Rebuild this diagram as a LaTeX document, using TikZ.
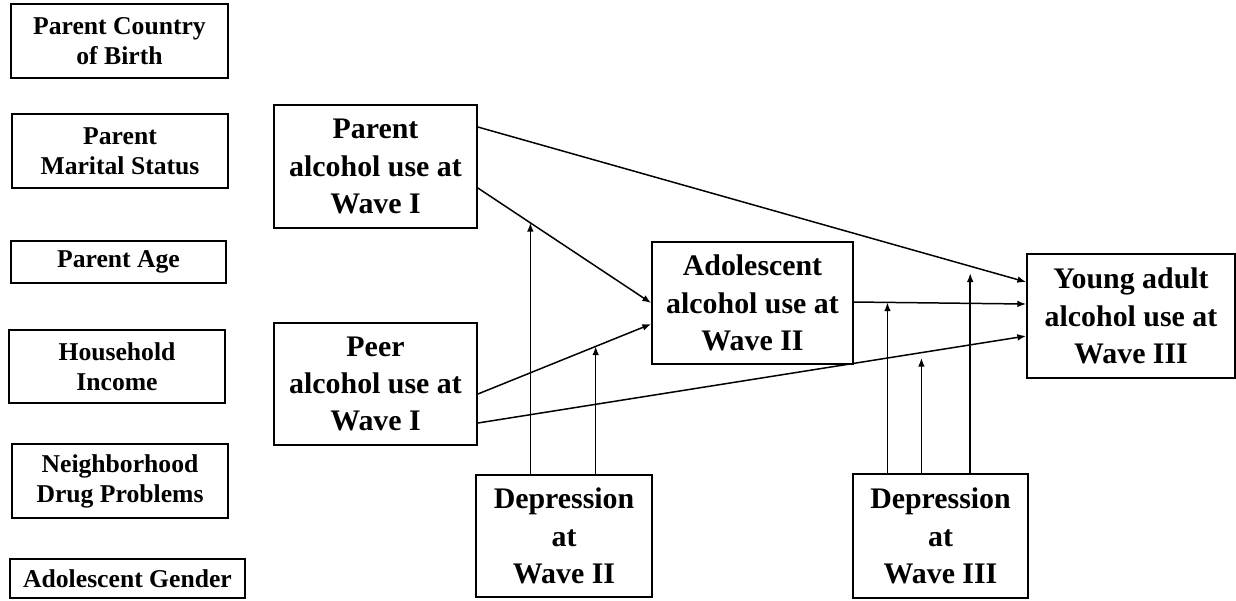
\documentclass[tikz,border=0pt]{standalone}
\usepackage{fontspec}
\setmainfont{Liberation Serif}
\usetikzlibrary{arrows.meta}

\tikzset{
  cov/.style={rectangle,draw,line width=1pt,align=center,inner sep=1pt,
    font=\fontsize{14.6}{17}\selectfont\bfseries},
  var/.style={rectangle,draw,line width=1pt,align=center,inner sep=1pt,
    font=\fontsize{17}{21.3}\selectfont\bfseries},
  conn/.style={line width=0.85pt,-{Latex[length=5pt,width=3.8pt]}}
}

\begin{document}
\begin{tikzpicture}[x=0.02cm,y=-0.02cm]
\useasboundingbox (0,0) rectangle (1236,600);
% covariates
\node[cov,minimum width=4.34cm,minimum height=1.48cm] (pcob) at (119.5,41) {Parent Country\\of Birth};
\node[cov,minimum width=4.32cm,minimum height=1.48cm] (pms) at (120,151) {Parent\\Marital Status};
\node[cov,minimum width=4.3cm,minimum height=0.84cm] (page) at (118.5,262) {Parent Age};
\node[cov,minimum width=4.32cm,minimum height=1.46cm] (hinc) at (117,366.5) {Household\\Income};
\node[cov,minimum width=4.32cm,minimum height=1.48cm] (ndp) at (120,481) {Neighborhood\\Drug Problems};
\node[cov,minimum width=4.7cm,minimum height=0.78cm] (agen) at (127.5,578.5) {Adolescent Gender};
% main variables
\node[var,minimum width=4.06cm,minimum height=2.46cm] (par) at (375.5,166.5) {Parent\\alcohol use at\\Wave I};
\node[var,minimum width=4.06cm,minimum height=2.44cm] (peer) at (375.5,384) {Peer\\alcohol use at\\Wave I};
\node[var,minimum width=4.02cm,minimum height=2.44cm] (ado) at (752.5,303) {Adolescent\\alcohol use at\\Wave II};
\node[var,minimum width=4.16cm,minimum height=2.48cm] (yad) at (1131,316) {Young adult\\alcohol use at\\Wave III};
\node[var,minimum width=3.52cm,minimum height=2.44cm] (dep2) at (564,536) {Depression\\at\\Wave II};
\node[var,minimum width=3.5cm,minimum height=2.48cm] (dep3) at (940.5,536) {Depression\\at\\Wave III};
% paths
\draw[conn] (par.east |- 0,127) -- coordinate[pos=0.898] (mE) (yad.west |- 0,282);
\draw[conn] (par.east |- 0,188) -- coordinate[pos=0.303] (mA) (ado.west |- 0,303);
\draw[conn] (peer.east |- 0,394) -- coordinate[pos=0.68] (mB) (ado.west |- 0,324);
\draw[conn] (peer.east |- 0,423) -- coordinate[pos=0.809] (mD) (yad.west |- 0,336);
\draw[conn] (ado.east |- 0,302) -- coordinate[pos=0.195] (mC) (yad.west |- 0,304);
% moderation
\draw[conn] (dep2.north -| mA) -- (mA);
\draw[conn] (dep2.north -| mB) -- (mB);
\draw[conn] (dep3.north -| mC) -- (mC);
\draw[conn,shorten >=3pt] (dep3.north -| mD) -- (mD);
\draw[conn,shorten >=4pt] (dep3.north -| mE) -- (mE);
\end{tikzpicture}
\end{document}
